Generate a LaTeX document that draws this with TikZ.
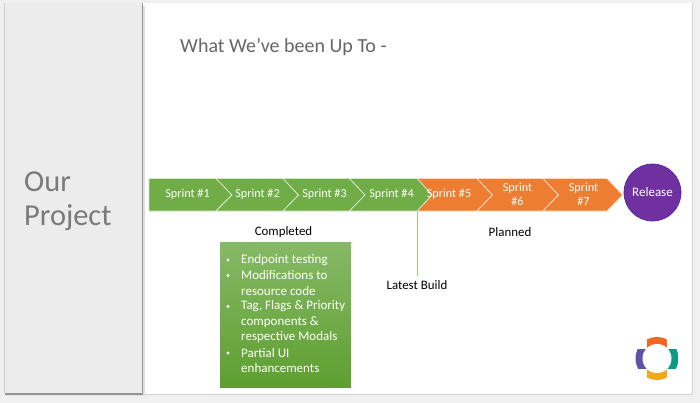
\documentclass[tikz,border=0pt]{standalone}
\usepackage{fontspec}
\setmainfont{Carlito}
\definecolor{pagebg}{HTML}{F0F0F0}
\definecolor{sidebg}{HTML}{ECECEC}
\definecolor{sprintgreen}{HTML}{70AD47}
\definecolor{sprintorange}{HTML}{ED7D31}
\definecolor{releasepurple}{HTML}{7030A0}
\definecolor{boxtop}{HTML}{86B966}
\definecolor{boxbottom}{HTML}{5E9F30}
\definecolor{buildline}{HTML}{9CCB7C}
\definecolor{logotop}{HTML}{F26522}
\definecolor{logobottom}{HTML}{F0A81C}
\definecolor{logoleft}{HTML}{5B55A6}
\definecolor{logoright}{HTML}{0F9A86}
\tikzset{
  x=1pt,y=-1pt,
  greenchev/.style={fill=sprintgreen,draw=white!70!sprintgreen,line width=0.8pt,line join=miter},
  orangechev/.style={fill=sprintorange,draw=white!70!sprintorange,line width=0.8pt,line join=miter},
  sprintlabel/.style={text=white,font=\fontsize{12.2}{13.5}\selectfont,align=center,inner sep=0pt},
  blacklabel/.style={text=black,font=\fontsize{12.9}{15}\selectfont,inner sep=0pt},
}
\begin{document}
\begin{tikzpicture}
\useasboundingbox (0,0) rectangle (700,403);
\fill[pagebg] (0,0) rectangle (700,403);
% slide
\fill[white] (142,3) rectangle (692,394);
\draw[black!18,line width=0.8pt] (692,3) -- (692,394.5) -- (142,394.5);
% side panel
\fill[black!12] (6,6) rectangle (144.5,396);
\fill[sidebg] (5,3) rectangle (142,393);
\draw[black!42,line width=1.3pt] (142.3,3) -- (142.3,394) -- (5,394);
\draw[black!20,line width=0.6pt] (4.5,3) -- (4.5,393);
\node[anchor=west,align=left,text=black!52,inner sep=0pt,font=\fontsize{30.4}{34}\selectfont] (side) at (24,201.5) {Our\\Project};
\node[anchor=west,text=black!60,inner sep=0pt,font=\fontsize{20}{24}\selectfont] (title) at (180,47) {What We’ve been Up To -};
% chevrons
\draw[greenchev] (149,178.5) -- (216,178.5) -- (232,195) -- (216,211) -- (149,211) -- cycle;
\draw[orangechev] (417,178.5) -- (477,178.5) -- (492.5,195) -- (477,211) -- (417,211) -- (432,195) -- cycle;
\draw[orangechev] (477,178.5) -- (543,178.5) -- (558.5,195) -- (543,211) -- (477,211) -- (492.5,195) -- cycle;
\draw[orangechev] (543,178.5) -- (607,178.5) -- (622.5,195) -- (607,211) -- (543,211) -- (558.5,195) -- cycle;
\draw[greenchev] (216,178.5) -- (283,178.5) -- (298.5,195) -- (283,211) -- (216,211) -- (232,195) -- cycle;
\draw[greenchev] (283,178.5) -- (349.5,178.5) -- (365,195) -- (349.5,211) -- (283,211) -- (298.5,195) -- cycle;
\draw[greenchev] (349.5,178.5) -- (417,178.5) -- (432,195) -- (417,211) -- (349.5,211) -- (365,195) -- cycle;
\coordinate (buildtop) at (417.5,211);
\node[sprintlabel] (s1) at (187.5,194.5) {Sprint \#1};
\node[sprintlabel] (s2) at (257.5,194.5) {Sprint \#2};
\node[sprintlabel] (s3) at (324.5,194.5) {Sprint \#3};
\node[sprintlabel] (s4) at (391.5,194.5) {Sprint \#4};
\node[sprintlabel] (s5) at (449,194.5) {Sprint \#5};
\node[sprintlabel] (s6) at (517.5,194.5) {Sprint\\\#6};
\node[sprintlabel] (s7) at (583.5,194.5) {Sprint\\\#7};
% release
\node[circle,minimum size=57pt,inner sep=0pt,fill=releasepurple,draw=releasepurple!70!blue,line width=0.7pt,text=white,font=\fontsize{13}{15}\selectfont] (release) at (652.5,192.5) {Release};
% labels
\node[blacklabel] (completed) at (283.5,232) {Completed};
\node[blacklabel] (planned) at (510,232) {Planned};
\node[blacklabel] (latest) at (417,285) {Latest Build};
\draw[buildline,line width=1.2pt] (buildtop) -- ([xshift=0.5pt,yshift=4pt]latest.north);
% completed box
\node[anchor=north west,minimum width=131pt,minimum height=145pt,inner sep=0pt,top color=boxtop,bottom color=boxbottom,draw=none] (box) at (220,242) {};
\begin{scope}[every node/.style={anchor=west,text=white,inner sep=0pt,font=\fontsize{13}{15}\selectfont}]
\node (t1) at (241,260) {Endpoint testing};
\node (t2) at (241,275.5) {Modifications to};
\node (t2b) at (241,291) {resource code};
\node (t3) at (241,306.5) {Tag, Flags \& Priority};
\node (t3b) at (241,322) {components \&};
\node (t3c) at (241,337.5) {respective Modals};
\node (t4) at (241,353) {Partial UI};
\node (t4b) at (241,368.5) {enhancements};
\end{scope}
\fill[white] (228,260) circle[radius=1.7] (228,275.5) circle[radius=1.7] (228,306.5) circle[radius=1.7] (228,353) circle[radius=1.7];
% logo
\begin{scope}
\clip (657,358.5) circle[radius=21.5];
\fill[logotop] (647,336) rectangle (667,358.5);
\fill[logobottom] (647,358.5) rectangle (667,381);
\fill[logoleft] (635,349) rectangle (657,369);
\fill[logoright] (657,349) rectangle (679,369);
\end{scope}
\fill[white] (657,358.5) circle[radius=14.5];
\end{tikzpicture}
\end{document}
